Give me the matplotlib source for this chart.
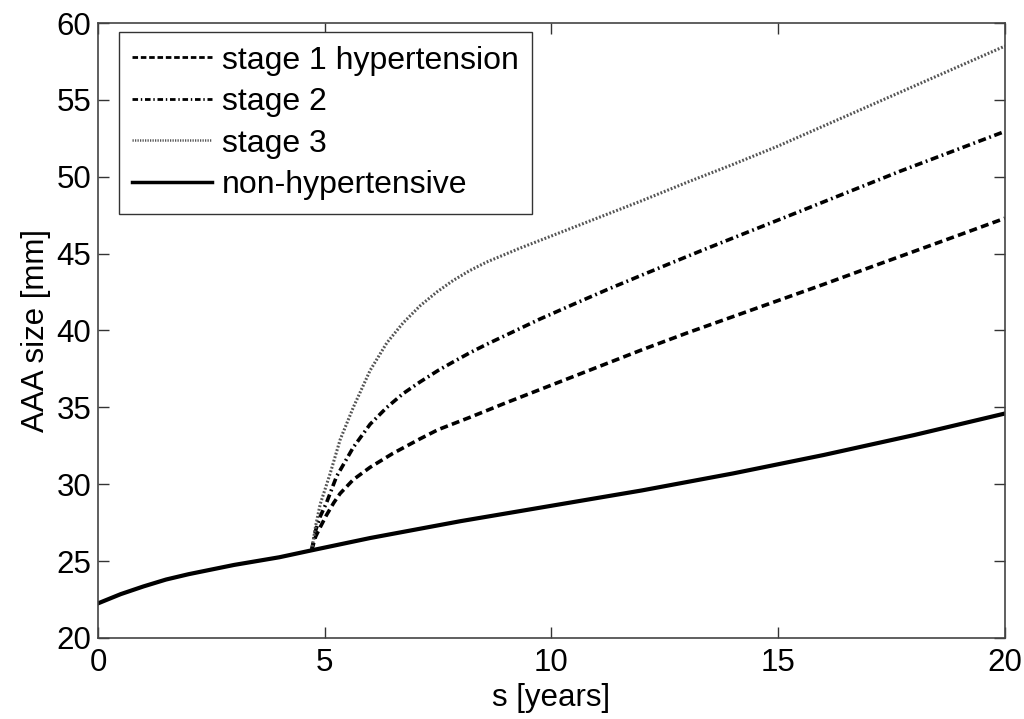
import matplotlib
matplotlib.use("Agg")
import matplotlib.pyplot as plt
from matplotlib.lines import Line2D

# ---- data ----
s_base = [0, 0.5, 1, 1.5, 2, 3, 4, 4.71, 6, 7, 8, 9, 10, 11, 12, 13, 14, 15, 16, 17, 18, 19, 20]
aaa_base = [22.25, 22.85, 23.35, 23.8, 24.15, 24.75, 25.25, 25.7, 26.5, 27.05, 27.6, 28.1, 28.6,
            29.1, 29.6, 30.15, 30.7, 31.3, 31.9, 32.55, 33.2, 33.9, 34.6]

s_st1 = [4.71, 4.8, 4.9, 5.04, 5.2, 5.34, 5.63, 6.0, 6.5, 7.1, 7.5, 8.2, 9, 10, 11, 12, 13, 14,
         15, 16, 17, 18, 19, 20]
aaa_st1 = [25.7, 26.6, 27.2, 28.0, 28.8, 29.4, 30.3, 31.1, 32.0, 32.95, 33.55, 34.35, 35.3, 36.45,
           37.6, 38.75, 39.85, 40.9, 41.95, 43.0, 44.08, 45.15, 46.22, 47.3]

s_st2 = [4.71, 4.8, 4.9, 5.04, 5.26, 5.63, 6.0, 6.37, 6.73, 7.1, 7.5, 7.83, 8.2, 8.57, 9.0, 9.75,
         10.48, 11.22, 11.95, 12.69, 13.27, 14.16, 15.48, 17.68, 20]
aaa_st2 = [25.7, 27.0, 27.9, 28.8, 30.5, 32.4, 33.9, 35.0, 35.9, 36.65, 37.4, 37.95, 38.55, 39.1,
           39.7, 40.75, 41.7, 42.65, 43.55, 44.45, 45.15, 46.2, 47.75, 50.35, 52.95]

s_st3 = [4.71, 4.8, 4.9, 5.12, 5.34, 5.63, 6.0, 6.37, 6.73, 7.1, 7.47, 7.83, 8.2, 8.57, 9.3, 10,
         11, 12, 13, 14, 15, 16, 17, 18, 19, 20]
aaa_st3 = [25.7, 27.3, 28.7, 30.7, 32.9, 35.0, 37.4, 39.2, 40.5, 41.6, 42.5, 43.25, 43.9, 44.45,
           45.35, 46.15, 47.3, 48.45, 49.65, 50.8, 52.0, 53.3, 54.6, 55.9, 57.2, 58.5]

labels = ["stage 1 hypertension", "stage 2", "stage 3", "non-hypertensive"]
x_ticks = [0, 5, 10, 15, 20]
y_ticks = [20, 25, 30, 35, 40, 45, 50, 55, 60]

plt.rcParams['font.family'] = ['Liberation Sans', 'DejaVu Sans']
FS = 22.5

fig = plt.figure(figsize=(10.24, 7.19), dpi=100)
ax = fig.add_axes([0.0957, 0.1127, 0.8857, 0.8553])

ax.plot(s_st1, aaa_st1, color='black', lw=2.6, linestyle=(0, (2.2, 1.2)))
ax.plot(s_st2, aaa_st2, color='black', lw=2.6, linestyle=(0, (2.2, 1.0, 0.5, 1.0)))
ax.plot(s_st3, aaa_st3, color='#555555', lw=2.2, linestyle=(0, (0.6, 0.6)))
ax.plot(s_base, aaa_base, color='black', lw=3.0)

ax.set_xlim(0, 20)
ax.set_ylim(20, 60)
ax.set_xticks(x_ticks)
ax.set_yticks(y_ticks)
ax.tick_params(direction='in', length=8, width=1, top=True, right=True,
               labelsize=FS, colors='#333333', labelcolor='black')
ax.tick_params(axis='x', pad=7)
ax.tick_params(axis='y', pad=5)
for sp in ax.spines.values():
    sp.set_color('#444444')
    sp.set_linewidth(1.2)

ax.set_xlabel("s [years]", fontsize=FS, labelpad=4)
ax.set_ylabel("AAA size [mm]", fontsize=FS, labelpad=4)

h1 = Line2D([], [], color='black', lw=2.0, linestyle=(0, (2.0, 1.0)))
h2 = Line2D([], [], color='black', lw=2.0, linestyle=(0, (2.0, 1.0, 0.5, 1.0)))
h3 = Line2D([], [], color='#555555', lw=1.8, linestyle=(0, (0.5, 0.5)))
h4 = Line2D([], [], color='black', lw=2.5)
leg = ax.legend([h1, h2, h3, h4], labels, loc='upper left', bbox_to_anchor=(0.023, 0.985),
                fontsize=23, frameon=True, fancybox=False, framealpha=1,
                edgecolor='#333333', handlelength=2.5, handletextpad=0.3,
                labelspacing=0.36, borderpad=0.42, borderaxespad=0)
leg.get_frame().set_linewidth(1.0)

fig.savefig("out.png", dpi=100, facecolor='white')
